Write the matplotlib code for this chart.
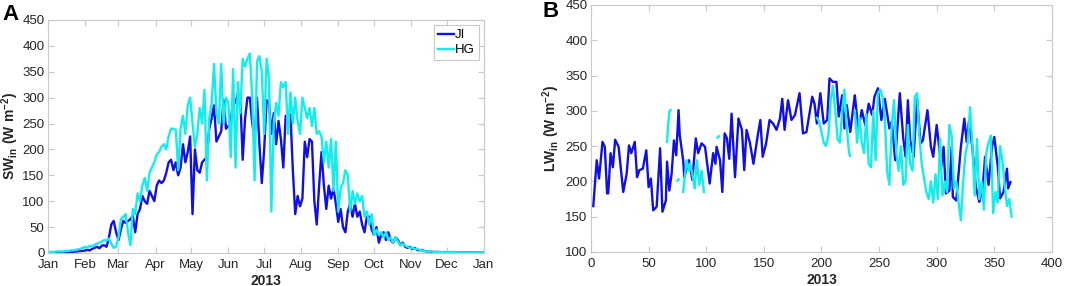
import numpy as np
import matplotlib.pyplot as plt

plt.rcParams['font.family'] = ['Liberation Sans', 'DejaVu Sans']
plt.rcParams['mathtext.fontset'] = 'custom'
plt.rcParams['mathtext.rm'] = 'Liberation Sans'
plt.rcParams['mathtext.bf'] = 'Liberation Sans:bold'

# day of year (every second day) for the SWin panel
sw_day = np.arange(1, 366, 2)

sw_ji = [1, 1, 1, 1, 1, 1, 1, 1, 2, 2, 2, 3, 3, 4, 4, 5,
         6, 5, 8, 10, 12, 9, 14, 15, 12, 30, 55, 62, 40, 25,
         45, 62, 58, 62, 65, 72, 40, 75, 85, 110, 100, 95, 120, 110, 100,
         130, 140, 135, 140, 155, 175, 180, 160, 175, 150, 165, 210, 175, 195, 225,
         75, 200, 160, 155, 175, 180, 185, 240, 260, 285, 215, 225, 235, 295, 240, 245,
         250, 300, 290, 307, 300, 180, 260, 300, 300, 250, 220, 300, 210, 135, 200,
         295, 290, 230, 270, 210, 255, 220, 165, 265, 265, 268, 160, 75, 110, 90,
         105, 215, 185, 220, 215, 100, 55, 130, 195, 130, 85, 130, 105, 125, 95, 60,
         85, 50, 40, 80, 95, 70, 95, 70, 80, 55, 40, 70, 70, 45, 35,
         50, 20, 35, 40, 25, 40, 25, 20, 30, 25, 15, 20, 12, 10, 12,
         8, 10, 6, 5, 6, 4, 3, 3, 2, 2, 2, 2, 1, 1, 1,
         1, 1, 1, 1, 1, 1, 1, 1, 1, 1, 1, 1, 1, 1, 1, 1]

sw_hg = [2, 2, 2, 3, 3, 3, 3, 4, 4, 5, 5, 6, 7, 8, 10, 12,
         10, 14, 12, 16, 18, 20, 22, 25, 24, 28, 18, 10, 12, 30,
         65, 70, 75, 40, 15, 85, 75, 115, 100, 130, 145, 120, 155, 165, 175,
         190, 195, 205, 210, 200, 225, 240, 240, 238, 160, 240, 265, 230, 285, 300,
         250, 205, 230, 280, 250, 315, 140, 260, 290, 365, 270, 250, 365, 250, 300, 290,
         185, 355, 165, 330, 270, 375, 360, 375, 385, 300, 140, 370, 380, 350, 230,
         375, 340, 80, 250, 290, 265, 330, 320, 330, 230, 310, 250, 300, 255, 230,
         300, 280, 260, 280, 245, 280, 230, 235, 225, 175, 215, 165, 220, 120, 215, 80,
         125, 135, 160, 150, 80, 120, 95, 115, 100, 110, 70, 80, 55, 75, 35,
         45, 35, 40, 30, 40, 25, 30, 20, 30, 22, 15, 18, 14, 12, 10,
         10, 8, 8, 6, 5, 4, 3, 3, 3, 2, 2, 2, 2, 2, 2,
         2, 2, 2, 2, 1, 1, 1, 1, 1, 1, 1, 1, 1, 1, 1, 1]

month_ticks = [0, 31, 59, 90, 120, 151, 181, 212, 243, 273, 304, 334, 365]
month_labels = ['Jan', 'Feb', 'Mar', 'Apr', 'May', 'Jun', 'Jul', 'Aug',
                'Sep', 'Oct', 'Nov', 'Dec', 'Jan']

# LWin, JI station
lw_ji_day = [2, 5, 7, 10, 12, 14, 15, 17, 19, 21, 24, 28, 31, 33, 35, 38, 40, 42, 45,
             48, 50, 52, 54, 57, 60, 62, 65, 66, 68, 70, 72, 74, 76, 77, 80, 81, 85,
             88, 91, 93, 96, 99, 103, 106, 108, 109, 112, 114, 116, 118, 120, 122, 125,
             128, 131, 133, 135, 138, 141, 145, 147, 149, 152, 155, 158, 161, 164, 166,
             168, 171, 174, 177, 181, 184, 187, 192, 194, 196, 199, 202, 205, 207, 210,
             213, 215, 218, 220, 222, 225, 228, 229, 232, 235, 238, 241, 244, 246, 249,
             252, 255, 259, 261, 264, 268, 271, 273, 275, 277, 280, 283, 286, 288, 292,
             295, 297, 300, 304, 306, 308, 311, 313, 314, 317, 321, 324, 326, 328, 331,
             334, 337, 340, 342, 345, 348, 350, 353, 355, 358, 361, 362, 364]
lw_ji = [165, 230, 204, 256, 249, 183, 183, 240, 220, 259, 249, 185, 211, 251, 240, 256,
         206, 216, 218, 244, 192, 204, 159, 164, 247, 157, 173, 228, 187, 211, 258, 237,
         301, 266, 230, 206, 230, 202, 261, 240, 254, 249, 197, 240, 225, 249, 230, 185,
         268, 261, 232, 296, 206, 289, 273, 216, 273, 254, 225, 268, 287, 235, 254, 287,
         282, 273, 289, 317, 273, 315, 287, 294, 325, 268, 270, 320, 310, 282, 325, 282,
         287, 346, 341, 341, 292, 322, 275, 308, 270, 310, 322, 273, 301, 280, 310, 294,
         320, 332, 287, 317, 275, 285, 230, 325, 261, 235, 315, 258, 235, 317, 254, 258,
         301, 249, 235, 280, 221, 249, 183, 187, 249, 178, 173, 249, 289, 256, 285, 247,
         192, 171, 192, 235, 195, 249, 263, 221, 176, 185, 218, 190, 199]

# LWin, HG station (gaps are missing data)
lw_hg_day = [66, 67, 68, 69, 70, 75, 76, 77, 80, 81, 83, 85, 86, 88, 90, 92, 94, 96, 98,
             99, 110, 111, 112,
             196, 198, 200, 202, 204, 206, 208, 210, 212, 214, 216, 218, 220, 222, 224, 225,
             226,
             229, 231, 233, 235, 237, 239, 241, 243, 245, 247, 249, 251, 253, 255, 257, 259,
             261, 263, 265, 267, 269, 271, 273, 275, 277, 279, 281, 283, 285, 287, 289, 291,
             293, 295, 297, 299, 301, 303, 305, 307, 309, 311, 313, 315, 317, 319, 321, 323,
             325, 327, 329, 331, 333, 335, 337, 339, 341, 343, 345, 347, 349, 351, 353, 355,
             357, 359, 361, 363, 365]
lw_hg = [256, 280, 298, 301, np.nan, 201, 203, np.nan, 185, 200, 230, 215, 225, 210, 190,
         230, 195, 215, 185, np.nan, 262, 264, np.nan,
         290, 285, 270, 255, 250, 265, 315, 335, 300, 260, 255, 300, 330, 275, 240, 236,
         np.nan,
         300, 255, 290, 255, 240, 295, 225, 220, 300, 230, 325, 330, 320, 290, 215, 195,
         280, 315, 240, 215, 250, 195, 200, 280, 225, 215, 320, 325, 265, 225, 205, 185,
         175, 200, 170, 210, 175, 260, 180, 200, 185, 280, 265, 190, 200, 170, 145, 200,
         240, 255, 305, 250, 180, 260, 175, 200, 160, 240, 255, 265, 155, 185, 170, 250,
         230, 195, 165, 175, 150]

ji_color = '#1010e6'
hg_color = '#12eeee'
frame_color = '#c8c8c8'
text_color = '#262626'

fig = plt.figure(figsize=(10.79, 2.86), dpi=100)
ax1 = fig.add_axes([0.0445, 0.1154, 0.404, 0.815])
ax2 = fig.add_axes([0.5477, 0.119, 0.4272, 0.8636])

ax1.plot(sw_day, sw_ji, color=ji_color, lw=1.7, label='JI')
ax1.plot(sw_day, sw_hg, color=hg_color, lw=1.7, label='HG')
ax1.set_xlim(0, 365)
ax1.set_ylim(0, 450)
ax1.set_xticks(month_ticks)
ax1.set_xticklabels(month_labels)
ax1.set_yticks(np.arange(0, 451, 50))
ax1.set_ylabel(r'$\mathbf{SW_{in}\ (W\ m^{-2})}$', fontsize=10, color=text_color, labelpad=1)
ax1.set_xlabel('2013', fontsize=10, fontweight='bold', color=text_color, labelpad=2)
leg = ax1.legend(loc='upper right', fontsize=9.5, handlelength=1.2, handletextpad=0.1,
                 borderpad=0.3, labelspacing=0.2, fancybox=False, framealpha=1,
                 borderaxespad=0.4)
leg.get_frame().set_edgecolor(frame_color)
leg.get_frame().set_linewidth(0.8)

ax2.plot(lw_ji_day, lw_ji, color=ji_color, lw=1.7)
ax2.plot(lw_hg_day, lw_hg, color=hg_color, lw=1.7)
ax2.set_xlim(0, 400)
ax2.set_ylim(100, 450)
ax2.set_xticks(np.arange(0, 401, 50))
ax2.set_yticks(np.arange(100, 451, 50))
ax2.set_ylabel(r'$\mathbf{LW_{in}\ (W\ m^{-2})}$', fontsize=10, color=text_color, labelpad=2)
ax2.set_xlabel('2013', fontsize=10, fontweight='bold', color=text_color, labelpad=2)

for ax in (ax1, ax2):
    for s in ax.spines.values():
        s.set_color(frame_color)
        s.set_linewidth(0.8)
    ax.tick_params(direction='in', length=4, width=0.8, color=frame_color,
                   labelsize=9.5, labelcolor=text_color, top=True, right=True, pad=2.5)
    ax.tick_params(axis='x', pad=4.5)

fig.text(0.002, 0.985, 'A', fontsize=16, fontweight='bold', va='top', ha='left')
fig.text(0.503, 0.995, 'B', fontsize=16, fontweight='bold', va='top', ha='left')

fig.savefig('out.png', dpi=100)
